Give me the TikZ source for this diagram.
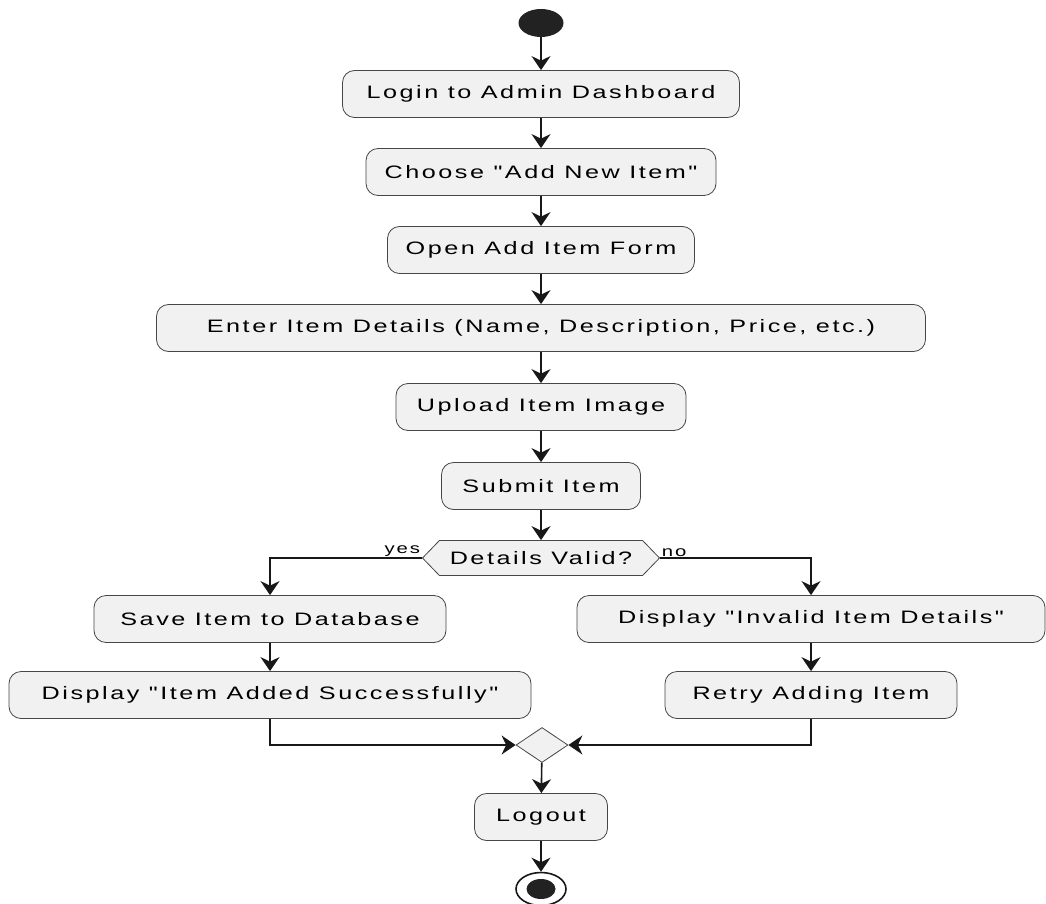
\documentclass[tikz,border=0pt]{standalone}
\usepackage{fontspec}
\newfontfamily\actfont[FakeStretch=1.4,LetterSpace=14]{Liberation Sans}
\usetikzlibrary{shapes.geometric,shapes.symbols,arrows.meta,positioning}
\definecolor{actfill}{HTML}{F1F1F1}
\definecolor{actline}{HTML}{181818}
\definecolor{dotfill}{HTML}{222222}

\begin{document}
\begin{tikzpicture}[x=1pt,y=-1pt,
  act/.style={draw=actline!80,fill=actfill,line width=0.8pt,rounded corners=12pt,
    minimum height=47pt,minimum width=#1,inner xsep=0pt,font=\actfont\fontsize{18}{21}\selectfont},
  flow/.style={draw=actline,line width=1.6pt,-{Stealth[length=14pt,width=19pt,inset=4.5pt]}},
  lbl/.style={font=\actfont\fontsize{14.5}{16}\selectfont,inner sep=1pt}]
\useasboundingbox (0,0) rectangle (1046,904);

% start and end
\node[ellipse,fill=dotfill,minimum width=45pt,minimum height=28pt,inner sep=0pt] (start) at (541,23) {};
\node[ellipse,draw=actline,line width=1.6pt,fill=white,minimum width=50pt,minimum height=33pt,inner sep=0pt] (stop) at (541,889) {};
\node[ellipse,fill=dotfill,minimum width=29pt,minimum height=20pt,inner sep=0pt] at (stop) {};

% main column
\node[act=397pt] (login) at (541,94) {Login to Admin Dashboard};
\node[act=350pt] (choose) at (541,172) {Choose "Add New Item"};
\node[act=307pt] (form) at (541,250) {Open Add Item Form};
\node[act=769pt] (details) at (541,328) {Enter Item Details (Name, Description, Price, etc.)};
\node[act=290pt] (upload) at (541,407) {Upload Item Image};
\node[act=199pt] (submit) at (541,486) {Submit Item};
\node[signal,signal to=west and east,signal pointer angle=92,draw=actline!80,fill=actfill,line width=0.8pt,
  minimum width=237pt,minimum height=35pt,inner sep=0pt,font=\actfont\fontsize{18}{21}\selectfont] (valid) at (541,558) {Details Valid?};

% branches
\node[act=352pt] (save) at (270,619) {Save Item to Database};
\node[act=522pt] (added) at (270,695) {Display "Item Added Successfully"};
\node[act=468pt] (invalid) at (811,619) {Display "Invalid Item Details"};
\node[act=292pt] (retry) at (811,695) {Retry Adding Item};

\node[diamond,draw=actline!80,fill=actfill,line width=0.8pt,minimum width=52pt,minimum height=35pt,inner sep=0pt] (merge) at (542,745) {};
\node[act=133pt] (logout) at (541,817) {Logout};

\draw[flow] (start) -- (login);
\draw[flow] (login) -- (choose);
\draw[flow] (choose) -- (form);
\draw[flow] (form) -- (details);
\draw[flow] (details) -- (upload);
\draw[flow] (upload) -- (submit);
\draw[flow] (submit) -- (valid);
\draw[flow] (valid.west) node[lbl,anchor=south east] {yes} -| (save.north);
\draw[flow] (valid.east) node[lbl,anchor=south west] {no} -| (invalid.north);
\draw[flow] (save) -- (added);
\draw[flow] (invalid) -- (retry);
\draw[flow] (added.south) |- (merge.west);
\draw[flow] (retry.south) |- (merge.east);
\draw[flow] (merge) -- (logout);
\draw[flow] (logout) -- (stop);

\end{tikzpicture}
\end{document}
